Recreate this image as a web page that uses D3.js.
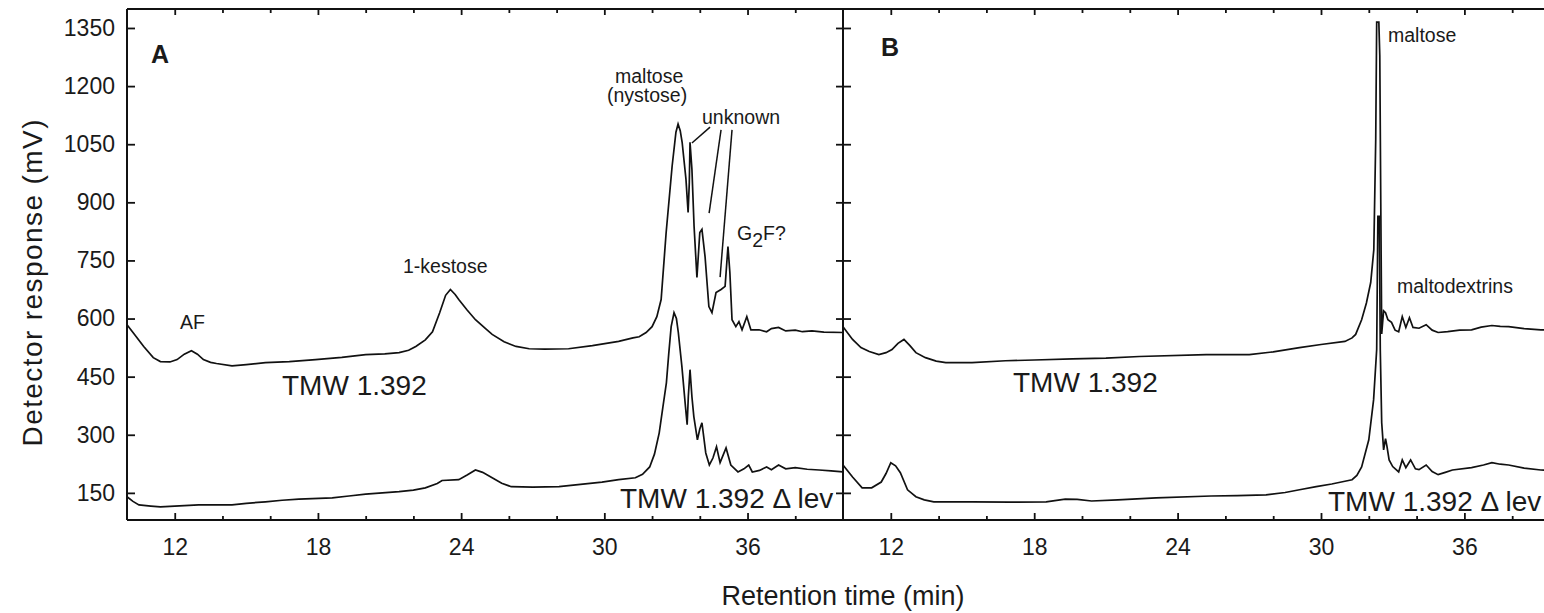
<!DOCTYPE html>
<html>
<head>
<meta charset="utf-8">
<title>HPLC chromatograms of TMW 1.392 and TMW 1.392 lev mutant</title>
<script src="https://d3js.org/d3.v7.min.js"></script>
<style>
  body { margin: 0; background: #fff; }
  svg text { font-family: "Liberation Sans", Arial, sans-serif; fill: #1a1a1a; }
</style>
</head>
<body>
<svg id="chart" width="1544" height="613"></svg>
<script>

// [retention time (min), detector response (mV)]
// panel A, wild type (upper trace)
var aWild = [[10.0,584],[10.3,560],[10.7,528],[11.1,499],[11.4,489],[11.8,488],[12.1,494],[12.4,508],[12.7,517],
  [12.95,508],[13.2,494],[13.5,487],[13.75,484],[14.4,478],[15.0,481],[15.8,486],[16.8,489],[17.9,494],[19.0,500],
  [20.0,507],[20.8,509],[21.4,512],[21.8,518],[22.1,528],[22.5,545],[22.8,566],[23.1,615],[23.35,660],[23.55,675],
  [23.75,662],[23.9,649],[24.25,622],[24.6,597],[25.0,575],[25.3,559],[25.8,540],[26.3,528],[26.85,522],[27.5,521],
  [28.5,522],[29.5,530],[30.6,541],[31.2,550],[31.46,553],[31.75,564],[32.0,579],[32.2,605],[32.38,649],[32.59,822],
  [32.84,993],[33.0,1081],[33.09,1102],[33.18,1085],[33.26,1055],[33.42,960],[33.51,874],[33.56,950],[33.59,1055],
  [33.67,985],[33.76,838],[33.88,706],[34.0,822],[34.09,830],[34.22,760],[34.38,631],[34.51,615],[34.68,667],
  [34.89,675],[35.06,683],[35.18,786],[35.26,719],[35.35,597],[35.51,579],[35.64,592],[35.77,571],[35.97,605],
  [36.14,571],[36.48,571],[36.8,566],[37.0,574],[37.3,577],[37.6,568],[38.0,570],[38.3,566],[38.7,568],[39.2,565],
  [40.0,564]];

// panel A, delta lev mutant (lower trace)
var aLev = [[10.0,140],[10.25,128],[10.5,119],[11.0,116],[11.4,114],[12.0,116],[13.0,119],[14.4,119],[15.0,123],
  [15.8,127],[16.5,131],[17.2,134],[18.6,137],[19.3,142],[20.0,147],[21.4,153],[22.0,157],[22.5,163],[23.0,174],
  [23.2,182],[23.9,184],[24.25,196],[24.6,209],[24.9,203],[25.3,189],[25.7,175],[26.1,166],[27.0,165],[28.1,166],
  [29.0,172],[29.9,178],[30.6,184],[31.3,189],[31.6,198],[31.9,217],[32.1,250],[32.3,305],[32.45,370],[32.6,434],
  [32.7,510],[32.8,579],[32.92,615],[33.02,600],[33.1,564],[33.25,476],[33.4,372],[33.47,326],[33.52,400],
  [33.59,468],[33.67,398],[33.75,347],[33.9,287],[34.0,315],[34.09,331],[34.25,253],[34.4,222],[34.55,240],
  [34.7,269],[34.85,228],[35.1,266],[35.3,222],[35.6,204],[35.85,212],[36.05,222],[36.2,204],[36.5,208],
  [36.8,217],[37.0,210],[37.3,222],[37.6,212],[38.0,215],[38.5,211],[39.0,209],[39.5,207],[40.0,204]];

// panel B, wild type (upper trace)
var bWild = [[10.0,579],[10.4,546],[10.75,525],[11.1,515],[11.5,507],[11.8,512],[12.05,520],[12.3,536],[12.55,546],
  [12.8,530],[13.05,512],[13.45,499],[13.9,490],[14.3,486],[15.4,486],[16.8,491],[18.0,493],[19.6,496],[21.0,498],
  [22.4,502],[25.2,507],[27.0,507],[28.0,514],[29.1,525],[30.0,533],[31.0,541],[31.3,550],[31.45,559],[31.7,597],
  [31.9,640],[32.08,693],[32.21,778],[32.29,1063],[32.33,1365],[32.42,1365],[32.46,1278],[32.5,908],[32.54,560],
  [32.62,620],[32.7,615],[32.8,597],[32.95,590],[33.1,570],[33.25,566],[33.4,605],[33.55,577],[33.7,602],
  [33.85,577],[34.1,575],[34.4,584],[34.65,570],[34.9,564],[35.3,566],[35.8,570],[36.3,571],[36.7,578],
  [37.15,582],[37.5,580],[37.85,579],[38.5,574],[39.2,571],[40.0,570]];

// panel B, delta lev mutant (lower trace)
var bLev = [[10.0,222],[10.4,191],[10.8,163],[11.2,163],[11.6,178],[11.8,200],[12.0,228],[12.2,220],[12.4,202],
  [12.7,158],[13.05,140],[13.4,132],[13.8,127],[15.4,127],[17.0,126],[18.5,127],[19.3,134],[19.8,133],[20.4,129],
  [21.5,132],[23.1,137],[25.4,142],[26.5,143],[27.7,145],[28.5,151],[29.1,158],[29.8,166],[30.45,173],[31.0,180],
  [31.3,184],[31.5,195],[31.7,217],[32.0,287],[32.2,390],[32.33,520],[32.38,864],[32.44,864],[32.48,520],
  [32.54,331],[32.62,261],[32.7,290],[32.76,270],[32.85,235],[33.0,218],[33.25,204],[33.4,235],[33.55,215],
  [33.75,235],[33.95,212],[34.1,210],[34.4,222],[34.65,205],[34.9,197],[35.2,203],[35.5,209],[36.3,215],
  [36.8,222],[37.15,228],[37.5,224],[37.85,222],[38.5,214],[39.2,209],[40.0,206]];

var yTicks = [150, 300, 450, 600, 750, 900, 1050, 1200, 1350];
var xMajor = [12, 18, 24, 30, 36];
var xMinor = [14, 16, 20, 22, 26, 28, 32, 34, 38];

// leader lines from the "unknown" label in panel A: [t0, v0, t1, v1]
var unknownLeaders = [[34.43,1094,33.67,1053],[34.89,1087,34.39,872],[35.35,1087,34.85,707]];

var svg = d3.select("#chart");
var top_ = 9, bottom = 520;

var y = d3.scaleLinear().domain([80, 1399]).range([bottom, top_]);
var xA = d3.scaleLinear().domain([10, 40]).range([127, 843]);
var xB = d3.scaleLinear().domain([10, 40]).range([843, 1560]);

function styleAxis(g) {
  g.selectAll("path.domain").remove();
  g.selectAll("line").attr("stroke", "#111").attr("stroke-width", 1.8);
  g.selectAll("text").attr("font-size", 23).attr("fill", "#1a1a1a")
    .attr("font-family", "Liberation Sans, Arial, sans-serif");
}

function drawPanel(x, traces) {
  // bottom axis, major ticks with labels
  svg.append("g").attr("transform", "translate(0," + bottom + ")")
    .call(d3.axisBottom(x).tickValues(xMajor).tickSizeInner(-7).tickSizeOuter(0).tickPadding(19))
    .call(styleAxis);
  svg.append("g").attr("transform", "translate(0," + bottom + ")")
    .call(d3.axisBottom(x).tickValues(xMinor).tickSizeInner(-4).tickSizeOuter(0).tickFormat(""))
    .call(styleAxis);
  // top axis
  svg.append("g").attr("transform", "translate(0," + top_ + ")")
    .call(d3.axisTop(x).tickValues(xMajor).tickSizeInner(-6).tickSizeOuter(0).tickFormat(""))
    .call(styleAxis);
  svg.append("g").attr("transform", "translate(0," + top_ + ")")
    .call(d3.axisTop(x).tickValues(xMinor).tickSizeInner(-4).tickSizeOuter(0).tickFormat(""))
    .call(styleAxis);

  var line = d3.line().x(function(d) { return x(d[0]); }).y(function(d) { return y(d[1]); });
  traces.forEach(function(tr) {
    svg.append("path").datum(tr)
      .attr("d", line)
      .attr("fill", "none")
      .attr("stroke", "#111")
      .attr("stroke-width", 1.7)
      .attr("stroke-linejoin", "miter");
  });
}

drawPanel(xA, [aWild, aLev]);
drawPanel(xB, [bWild, bLev]);

// left y axis with labels
svg.append("g").attr("transform", "translate(127,0)")
  .call(d3.axisLeft(y).tickValues(yTicks).tickFormat(d3.format("d"))
    .tickSizeInner(-8).tickSizeOuter(0).tickPadding(12))
  .call(styleAxis);
// shared axis between panels, ticks on both sides
svg.append("g").attr("transform", "translate(843,0)")
  .call(d3.axisLeft(y).tickValues(yTicks).tickSizeInner(7).tickSizeOuter(0).tickFormat(""))
  .call(styleAxis);
svg.append("g").attr("transform", "translate(843,0)")
  .call(d3.axisRight(y).tickValues(yTicks).tickSizeInner(8).tickSizeOuter(0).tickFormat(""))
  .call(styleAxis);

// frame
var frame = svg.append("g").attr("stroke", "#111").attr("stroke-width", 2);
frame.append("line").attr("x1", 127).attr("x2", 127).attr("y1", top_).attr("y2", bottom);
frame.append("line").attr("x1", 843).attr("x2", 843).attr("y1", top_).attr("y2", bottom);
frame.append("line").attr("x1", 127).attr("x2", 1544).attr("y1", top_).attr("y2", top_);
frame.append("line").attr("x1", 127).attr("x2", 1544).attr("y1", bottom).attr("y2", bottom);

// axis titles
svg.append("text").attr("x", 843).attr("y", 605).attr("text-anchor", "middle")
  .attr("font-size", 27).text("Retention time (min)");
svg.append("text").attr("transform", "translate(42,283) rotate(-90)").attr("text-anchor", "middle")
  .attr("font-size", 28).attr("textLength", 327).text("Detector response (mV)");

// panel letters
svg.append("text").attr("x", 151).attr("y", 63).attr("font-size", 25).attr("font-weight", "bold").text("A");
svg.append("text").attr("x", 881).attr("y", 56).attr("font-size", 25).attr("font-weight", "bold").text("B");

// strain labels
var strain = [
  {x: 282, y: 395, t: "TMW 1.392"},
  {x: 620, y: 508, t: "TMW 1.392 \u0394 lev"},
  {x: 1013, y: 392, t: "TMW 1.392"},
  {x: 1328, y: 511, t: "TMW 1.392 \u0394 lev"}
];
strain.forEach(function(s) {
  svg.append("text").attr("x", s.x).attr("y", s.y).attr("font-size", 28).text(s.t);
});

// peak names
var peaks = [
  {x: 180, y: 329, t: "AF"},
  {x: 403, y: 273, t: "1-kestose"},
  {x: 615, y: 83, t: "maltose"},
  {x: 607, y: 102, t: "(nystose)"},
  {x: 702, y: 124, t: "unknown"},
  {x: 1388, y: 42, t: "maltose"},
  {x: 1397, y: 293, t: "maltodextrins"}
];
peaks.forEach(function(p) {
  svg.append("text").attr("x", p.x).attr("y", p.y).attr("font-size", 19.5).text(p.t);
});
var g2f = svg.append("text").attr("x", 737).attr("y", 240).attr("font-size", 19.5);
g2f.append("tspan").text("G");
g2f.append("tspan").attr("dy", 7).text("2");
g2f.append("tspan").attr("dy", -7).text("F?");

svg.append("g").selectAll("line").data(unknownLeaders).enter().append("line")
  .attr("x1", function(d) { return xA(d[0]); })
  .attr("y1", function(d) { return y(d[1]); })
  .attr("x2", function(d) { return xA(d[2]); })
  .attr("y2", function(d) { return y(d[3]); })
  .attr("stroke", "#111").attr("stroke-width", 1.5);

</script>
</body>
</html>
